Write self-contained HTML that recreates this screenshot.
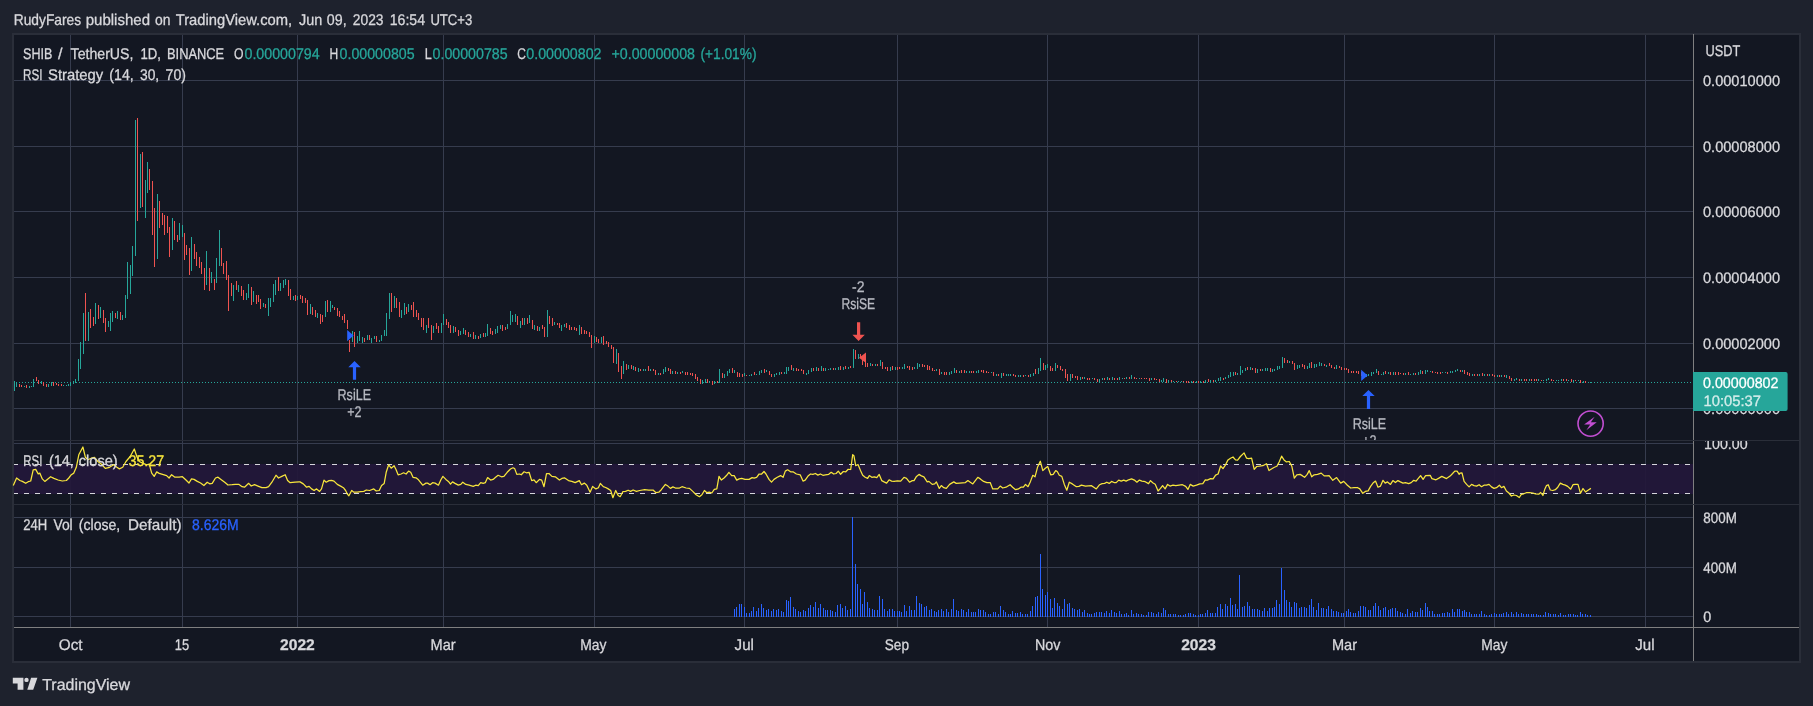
<!DOCTYPE html>
<html><head><meta charset="utf-8"><title>SHIB / TetherUS</title>
<style>
html,body{margin:0;padding:0;background:#1e222d}
body{width:1813px;height:706px;overflow:hidden;position:relative;font-family:"Liberation Sans",sans-serif}
svg{position:absolute;left:0;top:0;display:block;will-change:transform}
svg text{font-family:"Liberation Sans",sans-serif;text-rendering:geometricPrecision}
</style></head><body>
<svg width="1813" height="706" viewBox="0 0 1813 706">
<rect x="0" y="0" width="1813" height="706" fill="#1e222d"/>
<g shape-rendering="crispEdges">
<rect x="12" y="33" width="1789" height="630" fill="#2a2e39"/>
<rect x="14" y="35" width="1785" height="626" fill="#131722"/>
<rect x="70" y="35" width="1" height="592" fill="#363c4e"/>
<rect x="182" y="35" width="1" height="592" fill="#363c4e"/>
<rect x="297" y="35" width="1" height="592" fill="#363c4e"/>
<rect x="443" y="35" width="1" height="592" fill="#363c4e"/>
<rect x="594" y="35" width="1" height="592" fill="#363c4e"/>
<rect x="744" y="35" width="1" height="592" fill="#363c4e"/>
<rect x="897" y="35" width="1" height="592" fill="#363c4e"/>
<rect x="1047" y="35" width="1" height="592" fill="#363c4e"/>
<rect x="1198" y="35" width="1" height="592" fill="#363c4e"/>
<rect x="1344" y="35" width="1" height="592" fill="#363c4e"/>
<rect x="1494" y="35" width="1" height="592" fill="#363c4e"/>
<rect x="1645" y="35" width="1" height="592" fill="#363c4e"/>
<rect x="14" y="80" width="1679" height="1" fill="#363c4e"/>
<rect x="14" y="146" width="1679" height="1" fill="#363c4e"/>
<rect x="14" y="211" width="1679" height="1" fill="#363c4e"/>
<rect x="14" y="277" width="1679" height="1" fill="#363c4e"/>
<rect x="14" y="343" width="1679" height="1" fill="#363c4e"/>
<rect x="14" y="408" width="1679" height="1" fill="#363c4e"/>
<rect x="14" y="443" width="1679" height="1" fill="#363c4e"/>
<rect x="14" y="517" width="1679" height="1" fill="#363c4e"/>
<rect x="14" y="567" width="1679" height="1" fill="#363c4e"/>
<rect x="14" y="616" width="1679" height="1" fill="#363c4e"/>
<rect x="14" y="464" width="1679" height="30" fill="#22183a" fill-opacity="0.93"/>
<path d="M14 464.5h4M14 493.5h4M24 464.5h5M24 493.5h5M35 464.5h5M35 493.5h5M46 464.5h5M46 493.5h5M57 464.5h5M57 493.5h5M68 464.5h5M68 493.5h5M79 464.5h5M79 493.5h5M90 464.5h5M90 493.5h5M101 464.5h5M101 493.5h5M112 464.5h5M112 493.5h5M123 464.5h5M123 493.5h5M134 464.5h5M134 493.5h5M145 464.5h5M145 493.5h5M156 464.5h5M156 493.5h5M167 464.5h5M167 493.5h5M178 464.5h5M178 493.5h5M189 464.5h5M189 493.5h5M200 464.5h5M200 493.5h5M211 464.5h5M211 493.5h5M222 464.5h5M222 493.5h5M233 464.5h5M233 493.5h5M244 464.5h5M244 493.5h5M255 464.5h5M255 493.5h5M266 464.5h5M266 493.5h5M277 464.5h5M277 493.5h5M288 464.5h5M288 493.5h5M299 464.5h5M299 493.5h5M310 464.5h5M310 493.5h5M321 464.5h5M321 493.5h5M332 464.5h5M332 493.5h5M343 464.5h5M343 493.5h5M354 464.5h5M354 493.5h5M365 464.5h5M365 493.5h5M376 464.5h5M376 493.5h5M387 464.5h5M387 493.5h5M398 464.5h5M398 493.5h5M409 464.5h5M409 493.5h5M420 464.5h5M420 493.5h5M431 464.5h5M431 493.5h5M442 464.5h5M442 493.5h5M453 464.5h5M453 493.5h5M464 464.5h5M464 493.5h5M475 464.5h5M475 493.5h5M486 464.5h5M486 493.5h5M497 464.5h5M497 493.5h5M508 464.5h5M508 493.5h5M519 464.5h5M519 493.5h5M530 464.5h5M530 493.5h5M541 464.5h5M541 493.5h5M552 464.5h5M552 493.5h5M563 464.5h5M563 493.5h5M574 464.5h5M574 493.5h5M585 464.5h5M585 493.5h5M596 464.5h5M596 493.5h5M607 464.5h5M607 493.5h5M618 464.5h5M618 493.5h5M629 464.5h5M629 493.5h5M640 464.5h5M640 493.5h5M651 464.5h5M651 493.5h5M662 464.5h5M662 493.5h5M673 464.5h5M673 493.5h5M684 464.5h5M684 493.5h5M695 464.5h5M695 493.5h5M706 464.5h5M706 493.5h5M717 464.5h5M717 493.5h5M728 464.5h5M728 493.5h5M739 464.5h5M739 493.5h5M750 464.5h5M750 493.5h5M761 464.5h5M761 493.5h5M772 464.5h5M772 493.5h5M783 464.5h5M783 493.5h5M794 464.5h5M794 493.5h5M805 464.5h5M805 493.5h5M816 464.5h5M816 493.5h5M827 464.5h5M827 493.5h5M838 464.5h5M838 493.5h5M849 464.5h5M849 493.5h5M860 464.5h5M860 493.5h5M871 464.5h5M871 493.5h5M882 464.5h5M882 493.5h5M893 464.5h5M893 493.5h5M904 464.5h5M904 493.5h5M915 464.5h5M915 493.5h5M926 464.5h5M926 493.5h5M937 464.5h5M937 493.5h5M948 464.5h5M948 493.5h5M959 464.5h5M959 493.5h5M970 464.5h5M970 493.5h5M981 464.5h5M981 493.5h5M992 464.5h5M992 493.5h5M1003 464.5h5M1003 493.5h5M1014 464.5h5M1014 493.5h5M1025 464.5h5M1025 493.5h5M1036 464.5h5M1036 493.5h5M1047 464.5h5M1047 493.5h5M1058 464.5h5M1058 493.5h5M1069 464.5h5M1069 493.5h5M1080 464.5h5M1080 493.5h5M1091 464.5h5M1091 493.5h5M1102 464.5h5M1102 493.5h5M1113 464.5h5M1113 493.5h5M1124 464.5h5M1124 493.5h5M1135 464.5h5M1135 493.5h5M1146 464.5h5M1146 493.5h5M1157 464.5h5M1157 493.5h5M1168 464.5h5M1168 493.5h5M1179 464.5h5M1179 493.5h5M1190 464.5h5M1190 493.5h5M1201 464.5h5M1201 493.5h5M1212 464.5h5M1212 493.5h5M1223 464.5h5M1223 493.5h5M1234 464.5h5M1234 493.5h5M1245 464.5h5M1245 493.5h5M1256 464.5h5M1256 493.5h5M1267 464.5h5M1267 493.5h5M1278 464.5h5M1278 493.5h5M1289 464.5h5M1289 493.5h5M1300 464.5h5M1300 493.5h5M1311 464.5h5M1311 493.5h5M1322 464.5h5M1322 493.5h5M1333 464.5h5M1333 493.5h5M1344 464.5h5M1344 493.5h5M1355 464.5h5M1355 493.5h5M1366 464.5h5M1366 493.5h5M1377 464.5h5M1377 493.5h5M1388 464.5h5M1388 493.5h5M1399 464.5h5M1399 493.5h5M1410 464.5h5M1410 493.5h5M1421 464.5h5M1421 493.5h5M1432 464.5h5M1432 493.5h5M1443 464.5h5M1443 493.5h5M1454 464.5h5M1454 493.5h5M1465 464.5h5M1465 493.5h5M1476 464.5h5M1476 493.5h5M1487 464.5h5M1487 493.5h5M1498 464.5h5M1498 493.5h5M1509 464.5h5M1509 493.5h5M1520 464.5h5M1520 493.5h5M1531 464.5h5M1531 493.5h5M1542 464.5h5M1542 493.5h5M1553 464.5h5M1553 493.5h5M1564 464.5h5M1564 493.5h5M1575 464.5h5M1575 493.5h5M1586 464.5h5M1586 493.5h5M1597 464.5h5M1597 493.5h5M1608 464.5h5M1608 493.5h5M1619 464.5h5M1619 493.5h5M1630 464.5h5M1630 493.5h5M1641 464.5h5M1641 493.5h5M1652 464.5h5M1652 493.5h5M1663 464.5h5M1663 493.5h5M1674 464.5h5M1674 493.5h5M1685 464.5h5M1685 493.5h5" stroke="#d6d6dc" stroke-width="1" fill="none"/>
<path d="M16 382.5h1M19 382.5h1M22 382.5h1M25 382.5h1M28 382.5h1M31 382.5h1M34 382.5h1M37 382.5h1M40 382.5h1M43 382.5h1M46 382.5h1M49 382.5h1M52 382.5h1M55 382.5h1M58 382.5h1M61 382.5h1M64 382.5h1M67 382.5h1M70 382.5h1M73 382.5h1M76 382.5h1M79 382.5h1M82 382.5h1M85 382.5h1M88 382.5h1M91 382.5h1M94 382.5h1M97 382.5h1M100 382.5h1M103 382.5h1M106 382.5h1M109 382.5h1M112 382.5h1M115 382.5h1M118 382.5h1M121 382.5h1M124 382.5h1M127 382.5h1M130 382.5h1M133 382.5h1M136 382.5h1M139 382.5h1M142 382.5h1M145 382.5h1M148 382.5h1M151 382.5h1M154 382.5h1M157 382.5h1M160 382.5h1M163 382.5h1M166 382.5h1M169 382.5h1M172 382.5h1M175 382.5h1M178 382.5h1M181 382.5h1M184 382.5h1M187 382.5h1M190 382.5h1M193 382.5h1M196 382.5h1M199 382.5h1M202 382.5h1M205 382.5h1M208 382.5h1M211 382.5h1M214 382.5h1M217 382.5h1M220 382.5h1M223 382.5h1M226 382.5h1M229 382.5h1M232 382.5h1M235 382.5h1M238 382.5h1M241 382.5h1M244 382.5h1M247 382.5h1M250 382.5h1M253 382.5h1M256 382.5h1M259 382.5h1M262 382.5h1M265 382.5h1M268 382.5h1M271 382.5h1M274 382.5h1M277 382.5h1M280 382.5h1M283 382.5h1M286 382.5h1M289 382.5h1M292 382.5h1M295 382.5h1M298 382.5h1M301 382.5h1M304 382.5h1M307 382.5h1M310 382.5h1M313 382.5h1M316 382.5h1M319 382.5h1M322 382.5h1M325 382.5h1M328 382.5h1M331 382.5h1M334 382.5h1M337 382.5h1M340 382.5h1M343 382.5h1M346 382.5h1M349 382.5h1M352 382.5h1M355 382.5h1M358 382.5h1M361 382.5h1M364 382.5h1M367 382.5h1M370 382.5h1M373 382.5h1M376 382.5h1M379 382.5h1M382 382.5h1M385 382.5h1M388 382.5h1M391 382.5h1M394 382.5h1M397 382.5h1M400 382.5h1M403 382.5h1M406 382.5h1M409 382.5h1M412 382.5h1M415 382.5h1M418 382.5h1M421 382.5h1M424 382.5h1M427 382.5h1M430 382.5h1M433 382.5h1M436 382.5h1M439 382.5h1M442 382.5h1M445 382.5h1M448 382.5h1M451 382.5h1M454 382.5h1M457 382.5h1M460 382.5h1M463 382.5h1M466 382.5h1M469 382.5h1M472 382.5h1M475 382.5h1M478 382.5h1M481 382.5h1M484 382.5h1M487 382.5h1M490 382.5h1M493 382.5h1M496 382.5h1M499 382.5h1M502 382.5h1M505 382.5h1M508 382.5h1M511 382.5h1M514 382.5h1M517 382.5h1M520 382.5h1M523 382.5h1M526 382.5h1M529 382.5h1M532 382.5h1M535 382.5h1M538 382.5h1M541 382.5h1M544 382.5h1M547 382.5h1M550 382.5h1M553 382.5h1M556 382.5h1M559 382.5h1M562 382.5h1M565 382.5h1M568 382.5h1M571 382.5h1M574 382.5h1M577 382.5h1M580 382.5h1M583 382.5h1M586 382.5h1M589 382.5h1M592 382.5h1M595 382.5h1M598 382.5h1M601 382.5h1M604 382.5h1M607 382.5h1M610 382.5h1M613 382.5h1M616 382.5h1M619 382.5h1M622 382.5h1M625 382.5h1M628 382.5h1M631 382.5h1M634 382.5h1M637 382.5h1M640 382.5h1M643 382.5h1M646 382.5h1M649 382.5h1M652 382.5h1M655 382.5h1M658 382.5h1M661 382.5h1M664 382.5h1M667 382.5h1M670 382.5h1M673 382.5h1M676 382.5h1M679 382.5h1M682 382.5h1M685 382.5h1M688 382.5h1M691 382.5h1M694 382.5h1M697 382.5h1M700 382.5h1M703 382.5h1M706 382.5h1M709 382.5h1M712 382.5h1M715 382.5h1M718 382.5h1M721 382.5h1M724 382.5h1M727 382.5h1M730 382.5h1M733 382.5h1M736 382.5h1M739 382.5h1M742 382.5h1M745 382.5h1M748 382.5h1M751 382.5h1M754 382.5h1M757 382.5h1M760 382.5h1M763 382.5h1M766 382.5h1M769 382.5h1M772 382.5h1M775 382.5h1M778 382.5h1M781 382.5h1M784 382.5h1M787 382.5h1M790 382.5h1M793 382.5h1M796 382.5h1M799 382.5h1M802 382.5h1M805 382.5h1M808 382.5h1M811 382.5h1M814 382.5h1M817 382.5h1M820 382.5h1M823 382.5h1M826 382.5h1M829 382.5h1M832 382.5h1M835 382.5h1M838 382.5h1M841 382.5h1M844 382.5h1M847 382.5h1M850 382.5h1M853 382.5h1M856 382.5h1M859 382.5h1M862 382.5h1M865 382.5h1M868 382.5h1M871 382.5h1M874 382.5h1M877 382.5h1M880 382.5h1M883 382.5h1M886 382.5h1M889 382.5h1M892 382.5h1M895 382.5h1M898 382.5h1M901 382.5h1M904 382.5h1M907 382.5h1M910 382.5h1M913 382.5h1M916 382.5h1M919 382.5h1M922 382.5h1M925 382.5h1M928 382.5h1M931 382.5h1M934 382.5h1M937 382.5h1M940 382.5h1M943 382.5h1M946 382.5h1M949 382.5h1M952 382.5h1M955 382.5h1M958 382.5h1M961 382.5h1M964 382.5h1M967 382.5h1M970 382.5h1M973 382.5h1M976 382.5h1M979 382.5h1M982 382.5h1M985 382.5h1M988 382.5h1M991 382.5h1M994 382.5h1M997 382.5h1M1000 382.5h1M1003 382.5h1M1006 382.5h1M1009 382.5h1M1012 382.5h1M1015 382.5h1M1018 382.5h1M1021 382.5h1M1024 382.5h1M1027 382.5h1M1030 382.5h1M1033 382.5h1M1036 382.5h1M1039 382.5h1M1042 382.5h1M1045 382.5h1M1048 382.5h1M1051 382.5h1M1054 382.5h1M1057 382.5h1M1060 382.5h1M1063 382.5h1M1066 382.5h1M1069 382.5h1M1072 382.5h1M1075 382.5h1M1078 382.5h1M1081 382.5h1M1084 382.5h1M1087 382.5h1M1090 382.5h1M1093 382.5h1M1096 382.5h1M1099 382.5h1M1102 382.5h1M1105 382.5h1M1108 382.5h1M1111 382.5h1M1114 382.5h1M1117 382.5h1M1120 382.5h1M1123 382.5h1M1126 382.5h1M1129 382.5h1M1132 382.5h1M1135 382.5h1M1138 382.5h1M1141 382.5h1M1144 382.5h1M1147 382.5h1M1150 382.5h1M1153 382.5h1M1156 382.5h1M1159 382.5h1M1162 382.5h1M1165 382.5h1M1168 382.5h1M1171 382.5h1M1174 382.5h1M1177 382.5h1M1180 382.5h1M1183 382.5h1M1186 382.5h1M1189 382.5h1M1192 382.5h1M1195 382.5h1M1198 382.5h1M1201 382.5h1M1204 382.5h1M1207 382.5h1M1210 382.5h1M1213 382.5h1M1216 382.5h1M1219 382.5h1M1222 382.5h1M1225 382.5h1M1228 382.5h1M1231 382.5h1M1234 382.5h1M1237 382.5h1M1240 382.5h1M1243 382.5h1M1246 382.5h1M1249 382.5h1M1252 382.5h1M1255 382.5h1M1258 382.5h1M1261 382.5h1M1264 382.5h1M1267 382.5h1M1270 382.5h1M1273 382.5h1M1276 382.5h1M1279 382.5h1M1282 382.5h1M1285 382.5h1M1288 382.5h1M1291 382.5h1M1294 382.5h1M1297 382.5h1M1300 382.5h1M1303 382.5h1M1306 382.5h1M1309 382.5h1M1312 382.5h1M1315 382.5h1M1318 382.5h1M1321 382.5h1M1324 382.5h1M1327 382.5h1M1330 382.5h1M1333 382.5h1M1336 382.5h1M1339 382.5h1M1342 382.5h1M1345 382.5h1M1348 382.5h1M1351 382.5h1M1354 382.5h1M1357 382.5h1M1360 382.5h1M1363 382.5h1M1366 382.5h1M1369 382.5h1M1372 382.5h1M1375 382.5h1M1378 382.5h1M1381 382.5h1M1384 382.5h1M1387 382.5h1M1390 382.5h1M1393 382.5h1M1396 382.5h1M1399 382.5h1M1402 382.5h1M1405 382.5h1M1408 382.5h1M1411 382.5h1M1414 382.5h1M1417 382.5h1M1420 382.5h1M1423 382.5h1M1426 382.5h1M1429 382.5h1M1432 382.5h1M1435 382.5h1M1438 382.5h1M1441 382.5h1M1444 382.5h1M1447 382.5h1M1450 382.5h1M1453 382.5h1M1456 382.5h1M1459 382.5h1M1462 382.5h1M1465 382.5h1M1468 382.5h1M1471 382.5h1M1474 382.5h1M1477 382.5h1M1480 382.5h1M1483 382.5h1M1486 382.5h1M1489 382.5h1M1492 382.5h1M1495 382.5h1M1498 382.5h1M1501 382.5h1M1504 382.5h1M1507 382.5h1M1510 382.5h1M1513 382.5h1M1516 382.5h1M1519 382.5h1M1522 382.5h1M1525 382.5h1M1528 382.5h1M1531 382.5h1M1534 382.5h1M1537 382.5h1M1540 382.5h1M1543 382.5h1M1546 382.5h1M1549 382.5h1M1552 382.5h1M1555 382.5h1M1558 382.5h1M1561 382.5h1M1564 382.5h1M1567 382.5h1M1570 382.5h1M1573 382.5h1M1576 382.5h1M1579 382.5h1M1582 382.5h1M1585 382.5h1M1588 382.5h1M1591 382.5h1M1594 382.5h1M1597 382.5h1M1600 382.5h1M1603 382.5h1M1606 382.5h1M1609 382.5h1M1612 382.5h1M1615 382.5h1M1618 382.5h1M1621 382.5h1M1624 382.5h1M1627 382.5h1M1630 382.5h1M1633 382.5h1M1636 382.5h1M1639 382.5h1M1642 382.5h1M1645 382.5h1M1648 382.5h1M1651 382.5h1M1654 382.5h1M1657 382.5h1M1660 382.5h1M1663 382.5h1M1666 382.5h1M1669 382.5h1M1672 382.5h1M1675 382.5h1M1678 382.5h1M1681 382.5h1M1684 382.5h1M1687 382.5h1M1690 382.5h1" stroke="#26a69a" stroke-width="1" fill="none"/>
<rect x="1693" y="34" width="1" height="627" fill="#7f7f80"/>
<rect x="14" y="627" width="1785" height="1" fill="#7f7f80"/>
<rect x="14" y="440" width="1785" height="1" fill="#2a2e39"/>
<rect x="14" y="504" width="1785" height="1" fill="#2a2e39"/>
<path d="M734 609v8M736 607v10M739 604v13M741 604v13M744 607v10M746 613v4M749 613v4M751 611v6M753 607v10M756 611v6M758 608v9M761 604v13M763 608v9M766 610v7M768 609v8M771 611v6M773 609v8M776 610v7M778 609v8M781 611v6M783 612v5M786 600v17M788 601v16M790 597v20M793 607v10M795 609v8M798 611v6M800 612v5M803 610v7M805 611v6M808 608v9M810 605v12M813 607v10M815 602v15M818 608v9M820 604v13M823 608v9M825 610v7M827 610v7M830 610v7M832 611v6M835 612v5M837 605v12M840 604v13M842 608v9M845 606v11M847 610v7M850 609v8M852 517v100M855 564v53M857 584v33M860 589v28M862 604v13M864 592v25M867 602v15M869 608v9M872 609v8M874 610v7M877 610v7M879 596v21M882 599v18M884 609v8M887 611v6M889 609v8M892 609v8M894 611v6M897 611v6M899 611v6M901 612v5M904 605v12M906 611v6M909 606v11M911 610v7M914 610v7M916 596v21M919 603v14M921 604v13M924 607v10M926 606v11M929 610v7M931 609v8M934 611v6M936 612v5M938 610v7M941 609v8M943 611v6M946 609v8M948 612v5M951 609v8M953 599v18M956 610v7M958 611v6M961 609v8M963 610v7M966 612v5M968 609v8M971 612v5M973 612v5M975 612v5M978 609v8M980 610v7M983 610v7M985 612v5M988 614v3M990 614v3M993 612v5M995 612v5M998 614v3M1000 606v11M1003 610v7M1005 612v5M1008 614v3M1010 614v3M1012 611v6M1015 613v4M1017 613v4M1020 612v5M1022 614v3M1025 614v3M1027 614v3M1030 611v6M1032 606v11M1035 597v20M1037 596v21M1040 554v63M1042 589v28M1045 595v22M1047 592v25M1050 599v18M1052 608v9M1054 598v19M1057 603v14M1059 606v11M1062 609v8M1064 599v18M1067 604v13M1069 603v14M1072 608v9M1074 609v8M1077 610v7M1079 609v8M1082 612v5M1084 610v7M1087 613v4M1089 614v3M1091 614v3M1094 613v4M1096 612v5M1099 612v5M1101 612v5M1104 613v4M1106 611v6M1109 613v4M1111 610v7M1114 612v5M1116 613v4M1119 611v6M1121 614v3M1124 614v3M1126 613v4M1128 615v2M1131 610v7M1133 614v3M1136 613v4M1138 614v3M1141 614v3M1143 615v2M1146 615v2M1148 612v5M1151 612v5M1153 613v4M1156 614v3M1158 612v5M1161 613v4M1163 608v9M1165 610v7M1168 614v3M1170 614v3M1173 614v3M1175 614v3M1178 615v2M1180 615v2M1183 615v2M1185 614v3M1188 613v4M1190 613v4M1193 614v3M1195 615v2M1198 615v2M1200 614v3M1202 614v3M1205 613v4M1207 610v7M1210 613v4M1212 613v4M1215 613v4M1217 607v10M1220 604v13M1222 609v8M1225 604v13M1227 606v11M1230 598v19M1232 605v12M1235 604v13M1237 609v8M1239 575v42M1242 607v10M1244 606v11M1247 602v15M1249 606v11M1252 609v8M1254 609v8M1257 609v8M1259 610v7M1262 611v6M1264 608v9M1267 611v6M1269 608v9M1272 608v9M1274 607v10M1276 600v17M1279 604v13M1281 568v49M1284 590v27M1286 600v17M1289 602v15M1291 607v10M1294 602v15M1296 603v14M1299 608v9M1301 607v10M1304 607v10M1306 608v9M1309 605v12M1311 599v18M1313 607v10M1316 610v7M1318 603v14M1321 608v9M1323 608v9M1326 609v8M1328 606v11M1331 609v8M1333 611v6M1336 611v6M1338 612v5M1341 613v4M1343 613v4M1346 611v6M1348 609v8M1350 612v5M1353 613v4M1355 613v4M1358 611v6M1360 606v11M1363 606v11M1365 607v10M1368 610v7M1370 610v7M1373 606v11M1375 603v14M1378 606v11M1380 610v7M1383 608v9M1385 607v10M1388 610v7M1390 609v8M1392 608v9M1395 608v9M1397 611v6M1400 612v5M1402 613v4M1405 614v3M1407 609v8M1410 613v4M1412 611v6M1415 612v5M1417 612v5M1420 608v9M1422 610v7M1425 603v14M1427 607v10M1429 611v6M1432 611v6M1434 614v3M1437 614v3M1439 614v3M1442 613v4M1444 613v4M1447 612v5M1449 613v4M1452 609v8M1454 612v5M1457 609v8M1459 609v8M1462 611v6M1464 610v7M1466 612v5M1469 612v5M1471 614v3M1474 614v3M1476 614v3M1479 614v3M1481 611v6M1484 614v3M1486 615v2M1489 615v2M1491 614v3M1494 613v4M1496 614v3M1499 614v3M1501 614v3M1503 613v4M1506 612v5M1508 614v3M1511 612v5M1513 614v3M1516 612v5M1518 614v3M1521 613v4M1523 614v3M1526 614v3M1528 614v3M1531 614v3M1533 614v3M1536 614v3M1538 615v2M1540 615v2M1543 615v2M1545 612v5M1548 613v4M1550 614v3M1553 614v3M1555 614v3M1558 615v2M1560 613v4M1563 615v2M1565 615v2M1568 614v3M1570 614v3M1573 614v3M1575 615v2M1577 615v2M1580 612v5M1582 614v3M1585 614v3M1587 615v2M1590 615v2" stroke="#2962ff" stroke-width="1" fill="none" transform="translate(0.5,0)"/>
<path d="M14 381v10M16 382v5M24 386v1M29 386v2M31 386v1M33 379v8M41 381v3M48 384v3M51 382v4M63 385v1M66 385v1M68 384v2M70 382v4M73 381v3M75 379v4M78 359v22M80 342v27M83 313v41M88 312v29M95 303v21M100 307v11M108 321v6M110 313v18M112 311v11M117 311v8M122 315v5M125 295v23M127 262v37M130 265v29M132 246v30M135 120v136M140 154v54M145 180v38M147 162v31M157 194v65M172 218v32M179 223v17M182 225v12M191 237v34M206 251v34M211 272v11M216 258v25M219 230v36M233 285v16M238 285v7M246 293v7M248 284v14M253 291v11M263 303v4M268 298v18M270 298v9M273 284v18M275 280v15M280 283v8M283 280v8M285 279v6M293 296v4M297 296v4M310 304v10M317 313v5M325 301v16M330 301v11M332 305v3M352 331v11M357 336v7M359 331v10M362 337v6M367 335v5M371 338v5M374 336v3M379 340v2M381 335v6M384 330v6M386 313v23M389 293v26M394 296v12M401 310v8M404 303v12M408 304v8M426 325v8M433 326v7M441 323v10M443 314v11M453 326v7M460 331v4M463 328v6M470 334v3M475 335v4M480 334v4M485 333v4M487 324v12M495 329v5M497 326v7M500 325v4M507 324v5M510 311v14M512 315v7M515 314v8M520 321v7M524 318v7M529 315v8M534 325v5M539 327v4M547 310v27M554 322v3M561 325v6M564 324v3M579 325v10M594 336v7M601 337v6M616 349v15M623 361v13M628 365v4M633 366v4M638 368v4M643 369v2M645 369v2M650 369v2M658 373v2M663 369v5M665 367v5M672 371v3M677 372v2M682 371v2M702 380v4M705 379v4M709 381v2M714 381v3M719 369v14M724 374v4M727 371v5M729 369v4M734 370v3M744 373v3M749 375v1M751 374v2M756 374v1M759 371v4M761 370v3M766 370v2M774 374v3M776 373v2M779 372v3M784 372v2M786 367v7M788 367v4M793 368v3M806 373v2M808 370v4M811 368v4M816 367v4M821 366v5M825 368v3M828 369v1M830 368v2M835 368v2M838 367v3M843 367v3M848 367v2M853 349v19M858 354v5M870 363v3M875 364v2M880 360v6M890 367v4M895 367v3M902 367v2M904 364v5M914 367v2M917 363v6M919 364v3M936 369v2M941 372v2M949 372v3M951 371v3M954 368v5M959 371v2M966 371v2M969 371v2M976 371v2M978 370v3M991 372v1M996 374v2M1001 373v5M1006 374v2M1008 374v2M1010 374v2M1018 375v2M1020 375v2M1025 375v1M1030 374v3M1033 373v3M1038 368v6M1040 358v13M1045 365v5M1047 364v4M1055 363v8M1070 374v7M1080 377v3M1084 377v2M1092 378v1M1099 379v4M1102 378v2M1107 377v3M1112 377v3M1119 377v3M1122 378v1M1126 377v2M1131 375v4M1139 378v1M1151 378v2M1161 380v2M1163 378v4M1168 380v2M1173 381v1M1178 381v1M1181 381v1M1191 381v2M1196 381v2M1200 381v2M1205 380v3M1210 380v2M1215 380v2M1218 378v3M1220 377v4M1225 377v2M1228 375v3M1230 372v5M1233 372v4M1237 373v2M1240 366v9M1242 370v3M1245 368v3M1250 367v3M1257 369v4M1262 369v2M1265 368v3M1267 368v3M1272 369v3M1274 369v2M1277 366v4M1279 366v3M1282 357v11M1289 361v2M1297 365v4M1299 365v3M1307 366v3M1309 363v5M1314 364v4M1316 364v3M1319 362v4M1321 363v3M1326 365v2M1336 365v4M1363 373v4M1366 374v3M1368 374v2M1371 372v4M1373 372v2M1376 369v4M1381 374v1M1383 372v3M1388 372v2M1393 372v3M1405 373v2M1410 374v1M1413 373v2M1418 372v3M1420 370v4M1425 370v4M1427 370v2M1430 371v1M1442 372v1M1445 372v1M1450 371v2M1452 371v2M1455 370v2M1457 369v2M1462 370v2M1472 374v2M1479 374v2M1484 374v2M1489 374v2M1497 375v2M1501 375v2M1506 375v3M1514 379v2M1516 378v2M1521 379v2M1529 379v2M1538 379v2M1543 380v1M1546 379v2M1548 378v2M1556 380v1M1558 380v1M1561 379v2M1568 380v1M1573 380v2M1578 380v1M1583 381v2M1588 382v1M1590 382v1" stroke="#26a69a" stroke-width="1" fill="none" transform="translate(0.5,0)"/>
<path d="M19 384v3M21 385v2M26 385v3M36 377v4M38 380v4M43 382v4M46 384v3M53 382v4M56 383v2M58 384v2M61 384v2M85 293v48M90 309v19M93 317v9M98 305v14M103 310v13M105 318v14M115 313v5M120 312v8M137 118v103M142 152v55M149 169v21M152 181v54M154 208v59M159 201v27M162 213v12M164 215v20M167 216v17M169 227v30M174 221v19M177 235v7M184 233v27M186 245v10M189 248v27M194 244v15M196 252v14M199 257v11M201 262v12M204 268v22M209 268v23M214 279v11M221 248v18M223 263v11M226 261v19M228 275v36M231 283v13M236 281v9M241 286v10M243 290v10M251 287v18M256 295v9M258 295v7M260 299v10M265 304v4M278 277v14M288 280v16M290 289v11M295 295v6M300 295v4M302 296v7M305 298v5M307 300v15M312 307v8M315 310v7M320 314v10M322 315v7M327 300v12M334 307v3M337 308v8M339 311v6M342 316v4M344 314v9M347 320v9M349 340v12M354 332v15M364 338v4M369 335v5M376 336v6M391 293v19M396 298v10M399 302v15M406 307v7M411 305v5M413 302v15M416 310v7M418 313v7M421 318v9M423 318v12M428 318v10M431 325v15M436 323v6M438 326v7M446 319v6M448 322v6M450 325v8M455 327v5M458 330v6M465 330v5M468 332v5M473 332v7M478 336v3M483 333v4M490 328v6M492 331v4M502 325v6M505 327v3M517 316v9M522 318v7M527 318v6M532 320v9M537 326v5M542 325v4M544 327v10M549 316v8M552 318v8M557 323v2M559 323v5M566 323v5M569 325v5M571 327v3M574 327v3M576 328v3M581 327v7M584 330v4M586 331v3M589 332v5M591 335v13M596 337v5M598 339v4M603 336v9M606 341v3M608 342v5M611 345v4M613 347v16M618 353v19M621 366v13M626 364v6M631 365v4M635 367v4M640 369v2M648 366v5M653 369v2M655 370v5M660 373v2M668 368v3M670 369v5M675 371v3M680 372v2M685 372v3M687 372v3M690 373v2M692 373v3M695 374v5M697 377v4M700 379v5M707 379v4M712 381v4M717 381v2M722 373v5M732 368v5M737 372v5M739 373v4M742 374v3M746 375v1M754 372v3M764 369v4M769 371v4M771 374v3M781 372v2M791 365v5M796 368v3M798 369v2M801 369v2M803 370v4M813 368v3M818 368v3M823 368v3M833 368v2M840 366v4M845 366v3M850 366v2M855 350v9M860 354v4M862 357v8M865 362v5M867 363v4M872 364v2M877 364v2M882 362v7M885 367v2M887 367v4M892 366v4M897 367v3M899 367v2M907 366v2M909 366v4M912 367v3M922 364v3M924 365v2M927 365v5M929 366v4M932 368v3M934 370v1M939 369v6M944 372v3M946 372v3M956 370v3M961 370v3M964 370v3M971 371v2M973 371v2M981 370v2M983 370v3M986 371v2M988 372v1M993 372v4M998 374v2M1003 373v3M1013 374v2M1015 375v2M1023 375v2M1028 375v2M1035 369v5M1043 363v7M1050 366v5M1052 368v3M1057 365v3M1060 366v4M1062 369v2M1065 369v9M1067 374v7M1072 374v4M1075 376v2M1077 376v4M1082 377v2M1087 378v2M1089 378v2M1094 378v2M1097 379v3M1104 378v2M1109 378v2M1114 378v2M1117 378v2M1124 378v1M1129 377v2M1134 377v2M1136 378v1M1141 378v1M1144 378v1M1146 378v1M1149 378v3M1154 378v2M1156 379v1M1159 379v3M1166 379v4M1171 380v2M1176 381v1M1183 381v1M1186 381v2M1188 381v2M1193 381v2M1198 381v2M1203 381v2M1208 379v3M1213 380v2M1223 378v2M1235 372v3M1247 367v3M1252 368v2M1255 368v5M1260 369v2M1270 368v4M1284 358v5M1287 360v3M1292 361v3M1294 363v7M1302 364v3M1304 365v4M1311 362v6M1324 364v2M1329 363v3M1331 365v3M1334 367v2M1339 366v2M1341 367v3M1344 368v2M1346 368v2M1348 369v4M1351 371v2M1353 371v2M1356 371v2M1358 371v3M1361 372v4M1378 371v4M1385 371v3M1390 372v3M1395 372v3M1398 372v3M1400 373v1M1403 373v2M1408 372v3M1415 373v2M1422 371v3M1432 371v2M1435 372v1M1437 372v2M1440 372v2M1447 372v2M1460 370v2M1464 370v4M1467 372v3M1469 373v3M1474 374v2M1477 374v2M1482 373v3M1487 374v2M1492 374v2M1494 375v2M1499 375v2M1504 375v2M1509 376v3M1511 378v3M1519 379v2M1524 379v2M1526 379v2M1531 379v2M1534 379v2M1536 379v2M1541 380v1M1551 379v2M1553 380v1M1563 379v2M1566 379v2M1571 379v3M1575 380v1M1580 380v3M1585 381v2" stroke="#ef5350" stroke-width="1" fill="none" transform="translate(0.5,0)"/>
</g>
<polyline points="13.3,485.5 16.6,478.0 19.9,480.5 22.4,481.4 25.7,483.3 28.2,481.7 30.7,481.0 33.2,469.8 35.7,469.4 38.2,473.9 39.8,473.1 42.3,478.9 44.8,481.4 47.3,479.4 50.6,476.7 53.9,478.4 58.1,480.0 62.2,481.0 66.4,480.5 68.8,478.0 71.3,474.7 73.8,473.1 76.3,467.3 78.8,454.8 82.9,447.0 85.4,457.3 87.9,459.8 91.2,458.2 94.5,457.3 97.9,461.5 101.2,464.0 105.3,468.4 109.5,467.3 113.6,464.8 116.9,467.3 119.4,468.9 122.7,467.3 126.0,461.5 130.2,456.5 134.3,449.0 136.8,456.5 139.3,461.5 142.6,463.1 146.7,464.8 149.2,464.0 151.7,473.1 154.2,476.4 156.7,471.9 159.2,473.4 162.5,474.4 166.6,475.6 169.1,478.0 171.6,474.7 174.9,477.2 179.1,477.2 182.4,476.7 185.7,479.7 189.0,483.0 191.5,478.9 194.0,479.4 197.3,481.4 200.6,483.0 203.9,485.5 207.2,482.2 209.7,483.8 212.2,483.3 215.5,478.0 218.0,477.2 221.3,479.7 224.7,482.2 228.0,485.0 232.1,484.7 235.4,484.3 238.7,484.3 242.1,486.7 244.5,487.2 248.7,483.3 251.2,486.0 254.5,484.7 258.6,486.3 261.9,487.7 266.1,487.7 268.6,486.7 271.9,482.2 276.0,475.2 278.5,478.0 281.8,476.4 285.2,474.7 287.6,480.5 290.1,482.7 295.1,482.2 299.2,481.9 300.0,481.9 303.3,483.9 306.6,487.2 309.1,486.4 311.6,488.9 314.1,490.5 316.6,488.9 319.6,491.4 321.5,488.9 324.0,480.1 326.2,482.2 329.0,480.6 331.5,480.3 334.0,481.1 337.3,484.4 340.6,486.1 343.4,487.7 345.6,490.5 347.2,493.8 348.9,495.8 351.7,490.5 353.9,492.2 357.2,492.2 360.5,491.7 363.8,491.4 366.3,490.0 369.6,490.5 373.8,488.9 376.2,490.9 379.2,490.5 381.6,485.6 384.2,483.4 386.2,472.3 388.7,464.8 391.2,468.2 394.1,465.7 396.1,469.8 398.1,474.8 401.1,474.0 403.6,472.8 406.1,474.0 408.6,471.1 410.7,472.3 413.0,477.3 416.0,477.8 418.5,479.8 422.7,485.2 426.0,483.1 427.6,483.1 430.1,484.7 432.6,482.7 435.1,483.1 438.4,485.2 440.9,479.8 442.9,476.4 445.9,479.4 448.4,481.4 450.5,484.2 452.5,481.9 455.0,483.4 458.3,485.1 460.8,484.4 462.8,482.2 465.8,484.4 469.1,485.2 473.2,486.4 475.7,485.2 478.2,485.6 480.7,482.6 483.2,483.4 485.3,482.7 487.6,477.6 490.6,480.1 493.1,479.4 495.6,477.3 498.1,475.3 501.4,476.8 503.9,476.4 507.2,472.3 510.5,469.0 513.0,467.8 514.7,468.6 516.8,474.4 519.6,474.0 521.3,474.8 524.1,471.8 526.3,472.8 529.1,472.3 531.7,480.6 534.0,479.8 536.2,482.7 539.5,479.4 541.7,480.1 544.0,486.7 546.5,473.6 549.0,473.5 551.9,476.4 555.3,476.8 559.4,480.1 561.9,478.4 564.4,477.8 568.5,480.6 571.8,481.4 575.2,482.6 579.3,480.6 581.5,484.7 584.3,483.1 586.8,485.2 590.1,492.2 592.6,486.4 595.9,488.9 598.4,487.7 600.3,483.4 603.3,486.7 605.7,487.5 608.2,488.9 610.7,490.5 612.9,497.7 615.7,490.5 618.2,495.5 620.2,496.7 622.8,491.7 625.6,491.4 628.1,490.2 630.6,491.4 633.1,490.0 636.4,491.4 639.7,490.5 644.7,489.7 648.8,490.2 653.0,490.0 656.0,492.7 658.8,492.2 661.3,489.7 665.4,484.4 667.9,486.1 670.4,488.4 672.9,486.9 675.4,488.0 679.5,488.0 682.0,486.7 686.1,488.0 689.5,488.4 692.8,491.4 696.1,494.7 699.4,496.7 701.9,494.7 704.4,490.5 706.9,492.7 709.3,492.2 711.8,493.0 714.3,489.4 716.8,488.9 719.0,476.4 721.4,480.1 724.3,477.8 726.7,475.3 728.9,472.3 731.7,475.6 734.2,475.6 736.7,480.1 739.2,478.9 741.7,478.4 745.0,479.4 749.1,479.4 752.1,477.6 754.1,478.1 756.6,477.3 759.1,474.0 761.6,474.0 764.0,471.5 766.0,474.0 769.0,479.4 771.5,482.2 774.0,479.4 777.3,477.3 780.6,475.6 783.1,477.3 785.3,471.1 787.6,469.8 790.6,471.8 793.0,471.8 796.4,474.0 800.2,474.8 803.0,481.1 805.2,480.1 808.0,476.1 810.5,474.0 812.9,474.3 815.4,473.5 817.9,475.1 820.4,474.0 822.9,475.3 825.4,474.8 828.7,474.3 831.2,472.3 833.7,474.0 836.1,473.5 838.3,471.1 840.6,474.3 843.3,471.5 845.8,471.8 848.2,469.3 850.7,469.5 852.7,454.6 853.9,455.7 855.7,465.7 858.0,464.5 860.5,470.6 862.7,475.3 865.2,477.3 867.6,478.4 869.3,475.6 871.8,477.3 874.3,476.8 876.8,477.6 879.2,474.4 881.7,480.6 884.1,481.9 886.6,483.1 889.1,479.8 891.6,481.1 894.1,481.4 897.4,480.9 900.7,481.1 904.0,477.3 906.5,478.4 909.5,482.2 912.3,480.6 914.0,480.6 916.5,476.4 919.0,474.4 921.4,475.9 923.9,476.8 927.2,481.9 928.9,481.4 932.2,484.4 934.7,483.9 936.4,481.9 939.3,488.4 941.3,485.6 943.8,487.7 946.3,488.4 949.6,484.4 953.8,481.9 956.2,483.4 959.6,483.1 965.4,482.6 967.9,480.6 970.3,482.2 972.8,483.9 975.3,480.6 977.8,477.3 980.3,478.9 983.6,481.4 986.9,482.7 990.2,482.6 992.7,488.9 995.2,488.9 997.7,488.9 1000.2,486.1 1002.7,488.0 1006.0,487.2 1010.1,484.7 1012.6,487.2 1015.6,489.7 1018.4,488.9 1020.9,487.2 1023.4,487.2 1025.5,484.4 1028.0,486.7 1030.5,481.4 1032.8,475.3 1035.0,476.8 1037.5,467.3 1040.3,461.2 1042.8,470.6 1045.3,468.2 1047.7,466.5 1050.7,474.8 1053.2,474.4 1055.7,470.6 1057.4,471.8 1059.3,475.3 1061.8,476.4 1064.3,484.4 1066.8,490.2 1069.3,482.2 1072.3,483.9 1076.4,486.7 1078.9,486.4 1081.4,485.1 1085.5,486.1 1091.3,485.6 1093.8,487.2 1096.3,488.9 1099.6,484.7 1102.1,483.6 1104.6,483.4 1106.8,482.2 1109.2,483.4 1111.6,481.4 1114.5,482.7 1116.2,482.6 1118.7,480.1 1121.2,481.1 1123.7,480.1 1126.1,481.1 1128.6,479.8 1131.6,478.9 1134.4,480.1 1136.9,482.2 1139.4,480.1 1141.9,481.1 1145.2,481.7 1148.5,483.6 1150.5,480.6 1152.7,482.7 1155.2,484.2 1158.1,491.0 1160.5,488.4 1162.6,485.6 1165.1,488.9 1167.6,484.4 1170.0,486.1 1173.0,485.1 1175.8,485.6 1179.1,485.1 1182.4,484.7 1185.7,486.4 1187.9,489.4 1190.2,484.4 1193.2,486.1 1196.5,485.2 1199.8,483.9 1202.8,483.6 1205.3,479.8 1207.3,480.1 1210.6,478.6 1213.1,478.9 1215.6,475.1 1218.1,474.0 1220.6,466.0 1223.0,468.6 1225.5,464.8 1228.0,459.9 1230.5,458.2 1233.0,457.0 1235.5,459.9 1237.6,460.2 1240.4,456.5 1244.1,452.9 1246.6,458.2 1248.7,458.7 1251.6,458.2 1254.2,469.3 1256.7,466.5 1259.5,466.2 1262.8,465.7 1266.5,463.7 1269.0,470.6 1271.4,469.0 1274.4,467.3 1276.9,466.2 1279.4,461.5 1281.6,456.2 1284.0,459.9 1286.5,461.9 1289.3,461.5 1291.8,466.2 1294.3,478.1 1296.8,474.8 1300.1,474.4 1302.6,475.9 1304.6,477.3 1307.2,474.4 1309.2,470.6 1311.7,476.8 1314.2,474.8 1317.5,474.3 1321.2,473.1 1324.2,475.9 1326.6,475.9 1329.1,475.6 1332.8,480.3 1336.6,477.6 1340.7,483.1 1343.7,481.4 1347.4,485.2 1350.7,488.0 1354.0,487.7 1357.3,487.5 1359.8,488.9 1362.8,493.3 1365.3,491.4 1368.1,490.9 1370.6,486.4 1373.0,483.1 1375.5,481.1 1378.0,487.2 1380.5,486.1 1383.0,480.3 1385.2,483.1 1387.5,481.9 1390.5,484.4 1392.9,480.6 1395.4,482.6 1397.9,480.6 1400.4,481.9 1402.9,483.1 1405.4,482.6 1408.7,483.6 1411.2,482.6 1413.7,480.3 1416.1,481.1 1418.3,478.4 1420.6,475.6 1423.1,479.4 1425.6,475.6 1430.2,475.3 1431.9,478.6 1436.0,479.8 1438.5,478.4 1441.8,476.4 1446.5,478.6 1450.1,476.1 1452.6,473.5 1454.8,471.1 1457.1,471.1 1459.2,474.3 1460.0,473.1 1462.0,472.8 1464.1,481.4 1466.6,484.4 1469.1,486.9 1471.6,484.4 1474.1,485.6 1476.6,486.1 1479.1,484.7 1481.5,486.7 1484.0,485.2 1486.5,485.2 1489.0,484.4 1491.5,486.9 1494.0,488.4 1496.5,487.7 1499.4,485.2 1501.4,487.7 1503.9,486.4 1506.4,491.0 1508.9,493.0 1511.4,496.0 1513.9,495.0 1516.4,495.5 1519.3,497.5 1521.3,494.3 1523.8,493.8 1526.3,492.7 1529.6,492.7 1532.9,493.0 1535.4,493.8 1538.7,494.2 1540.7,492.5 1542.9,495.5 1544.9,488.9 1546.5,485.6 1548.2,484.7 1550.3,490.0 1552.8,490.5 1555.3,489.7 1557.8,487.2 1560.3,483.1 1562.8,484.4 1565.3,485.1 1567.7,486.4 1570.7,489.2 1573.0,484.7 1575.2,484.4 1578.0,484.4 1580.5,493.3 1583.0,488.5 1585.5,491.9 1588.0,490.2 1590.9,488.4" fill="none" stroke="#f8e63c" stroke-width="1.25" stroke-linejoin="round"/>
<g>
<path d="M347.2 330v11.2l6.4-5.6z" fill="#2962ff"/>
<path d="M354.5 361l6.2 6.2h-4.6v12.6h-3.2v-12.6h-4.6z" fill="#2962ff"/>
<path d="M1361.2 369.8v11.2l6.4-5.6z" fill="#2962ff"/>
<path d="M1368.5 389.9l6.2 6.2h-4.6v12.8h-3.2v-12.8h-4.6z" fill="#2962ff"/>
<path d="M857 322.3h3.2v12.4h4.6l-6.2 6.3l-6.2-6.3h4.6z" fill="#ef5350"/>
<path d="M866 352.5v10.6l-7-5.3z" fill="#ef5350"/>
</g>
<circle cx="1590.6" cy="423.6" r="12.6" fill="#131722" stroke="#c14fd1" stroke-width="1.6"/>
<path d="M1594.66 416.7L1584.1 424.5h6.1l-3.85 5.8l10.4-8h-5.9z" fill="#c14fd1"/>
<text x="13.7" y="25.0" font-size="15.5" fill="#d8d8dc" stroke="#d8d8dc" stroke-width="0.3" textLength="67.5" lengthAdjust="spacingAndGlyphs">RudyFares</text>
<text x="85.7" y="25.0" font-size="15.5" fill="#d8d8dc" stroke="#d8d8dc" stroke-width="0.3" textLength="64.3" lengthAdjust="spacingAndGlyphs">published</text>
<text x="155.0" y="25.0" font-size="15.5" fill="#d8d8dc" stroke="#d8d8dc" stroke-width="0.3" textLength="15.5" lengthAdjust="spacingAndGlyphs">on</text>
<text x="175.7" y="25.0" font-size="15.5" fill="#d8d8dc" stroke="#d8d8dc" stroke-width="0.3" textLength="116.5" lengthAdjust="spacingAndGlyphs">TradingView.com,</text>
<text x="299.0" y="25.0" font-size="15.5" fill="#d8d8dc" stroke="#d8d8dc" stroke-width="0.3" textLength="23.3" lengthAdjust="spacingAndGlyphs">Jun</text>
<text x="326.8" y="25.0" font-size="15.5" fill="#d8d8dc" stroke="#d8d8dc" stroke-width="0.3" textLength="19.8" lengthAdjust="spacingAndGlyphs">09,</text>
<text x="352.8" y="25.0" font-size="15.5" fill="#d8d8dc" stroke="#d8d8dc" stroke-width="0.3" textLength="30.7" lengthAdjust="spacingAndGlyphs">2023</text>
<text x="389.7" y="25.0" font-size="15.5" fill="#d8d8dc" stroke="#d8d8dc" stroke-width="0.3" textLength="35.3" lengthAdjust="spacingAndGlyphs">16:54</text>
<text x="430.4" y="25.0" font-size="15.5" fill="#d8d8dc" stroke="#d8d8dc" stroke-width="0.3" textLength="41.8" lengthAdjust="spacingAndGlyphs">UTC+3</text>
<text x="23.1" y="59.0" font-size="15.5" fill="#d8d8dc" stroke="#d8d8dc" stroke-width="0.3" textLength="29.3" lengthAdjust="spacingAndGlyphs">SHIB</text>
<text x="57.9" y="59.0" font-size="15.5" fill="#d8d8dc" stroke="#d8d8dc" stroke-width="0.3" textLength="4.5" lengthAdjust="spacingAndGlyphs">/</text>
<text x="70.6" y="59.0" font-size="15.5" fill="#d8d8dc" stroke="#d8d8dc" stroke-width="0.3" textLength="62.8" lengthAdjust="spacingAndGlyphs">TetherUS,</text>
<text x="140.5" y="59.0" font-size="15.5" fill="#d8d8dc" stroke="#d8d8dc" stroke-width="0.3" textLength="20.5" lengthAdjust="spacingAndGlyphs">1D,</text>
<text x="167.0" y="59.0" font-size="15.5" fill="#d8d8dc" stroke="#d8d8dc" stroke-width="0.3" textLength="57.2" lengthAdjust="spacingAndGlyphs">BINANCE</text>
<text x="233.9" y="59.0" font-size="15.5" fill="#d8d8dc" stroke="#d8d8dc" stroke-width="0.3" textLength="9.5" lengthAdjust="spacingAndGlyphs">O</text>
<text x="244.5" y="59.0" font-size="15.5" fill="#26a69a" stroke="#26a69a" stroke-width="0.3" textLength="75.2" lengthAdjust="spacingAndGlyphs">0.00000794</text>
<text x="329.6" y="59.0" font-size="15.5" fill="#d8d8dc" stroke="#d8d8dc" stroke-width="0.3" textLength="8.7" lengthAdjust="spacingAndGlyphs">H</text>
<text x="339.6" y="59.0" font-size="15.5" fill="#26a69a" stroke="#26a69a" stroke-width="0.3" textLength="75.0" lengthAdjust="spacingAndGlyphs">0.00000805</text>
<text x="424.7" y="59.0" font-size="15.5" fill="#d8d8dc" stroke="#d8d8dc" stroke-width="0.3" textLength="7.0" lengthAdjust="spacingAndGlyphs">L</text>
<text x="432.6" y="59.0" font-size="15.5" fill="#26a69a" stroke="#26a69a" stroke-width="0.3" textLength="75.0" lengthAdjust="spacingAndGlyphs">0.00000785</text>
<text x="517.2" y="59.0" font-size="15.5" fill="#d8d8dc" stroke="#d8d8dc" stroke-width="0.3" textLength="8.6" lengthAdjust="spacingAndGlyphs">C</text>
<text x="526.3" y="59.0" font-size="15.5" fill="#26a69a" stroke="#26a69a" stroke-width="0.3" textLength="75.2" lengthAdjust="spacingAndGlyphs">0.00000802</text>
<text x="611.5" y="59.0" font-size="15.5" fill="#26a69a" stroke="#26a69a" stroke-width="0.3" textLength="83.5" lengthAdjust="spacingAndGlyphs">+0.00000008</text>
<text x="700.5" y="59.0" font-size="15.5" fill="#26a69a" stroke="#26a69a" stroke-width="0.3" textLength="56.0" lengthAdjust="spacingAndGlyphs">(+1.01%)</text>
<text x="23.1" y="80.0" font-size="15.5" fill="#d8d8dc" stroke="#d8d8dc" stroke-width="0.3" textLength="19.4" lengthAdjust="spacingAndGlyphs">RSI</text>
<text x="48.0" y="80.0" font-size="15.5" fill="#d8d8dc" stroke="#d8d8dc" stroke-width="0.3" textLength="55.2" lengthAdjust="spacingAndGlyphs">Strategy</text>
<text x="109.3" y="80.0" font-size="15.5" fill="#d8d8dc" stroke="#d8d8dc" stroke-width="0.3" textLength="24.4" lengthAdjust="spacingAndGlyphs">(14,</text>
<text x="140.0" y="80.0" font-size="15.5" fill="#d8d8dc" stroke="#d8d8dc" stroke-width="0.3" textLength="19.2" lengthAdjust="spacingAndGlyphs">30,</text>
<text x="165.6" y="80.0" font-size="15.5" fill="#d8d8dc" stroke="#d8d8dc" stroke-width="0.3" textLength="20.4" lengthAdjust="spacingAndGlyphs">70)</text>
<text x="23.3" y="466.0" font-size="15.5" fill="#d8d8dc" stroke="#d8d8dc" stroke-width="0.3" textLength="19.0" lengthAdjust="spacingAndGlyphs">RSI</text>
<text x="49.0" y="466.0" font-size="15.5" fill="#d8d8dc" stroke="#d8d8dc" stroke-width="0.3" textLength="24.8" lengthAdjust="spacingAndGlyphs">(14,</text>
<text x="78.8" y="466.0" font-size="15.5" fill="#d8d8dc" stroke="#d8d8dc" stroke-width="0.3" textLength="38.9" lengthAdjust="spacingAndGlyphs">close)</text>
<text x="128.5" y="466.0" font-size="15.5" fill="#f8e63c" stroke="#f8e63c" stroke-width="0.3" textLength="35.7" lengthAdjust="spacingAndGlyphs">35.27</text>
<text x="23.3" y="530.0" font-size="15.5" fill="#d8d8dc" stroke="#d8d8dc" stroke-width="0.3" textLength="24.0" lengthAdjust="spacingAndGlyphs">24H</text>
<text x="53.4" y="530.0" font-size="15.5" fill="#d8d8dc" stroke="#d8d8dc" stroke-width="0.3" textLength="19.3" lengthAdjust="spacingAndGlyphs">Vol</text>
<text x="78.8" y="530.0" font-size="15.5" fill="#d8d8dc" stroke="#d8d8dc" stroke-width="0.3" textLength="41.4" lengthAdjust="spacingAndGlyphs">(close,</text>
<text x="128.0" y="530.0" font-size="15.5" fill="#d8d8dc" stroke="#d8d8dc" stroke-width="0.3" textLength="53.6" lengthAdjust="spacingAndGlyphs">Default)</text>
<text x="192.0" y="530.0" font-size="15.5" fill="#2962ff" stroke="#2962ff" stroke-width="0.3" textLength="46.7" lengthAdjust="spacingAndGlyphs">8.626M</text>
<text x="354.3" y="400.0" font-size="15.5" fill="#b8bac2" stroke="#b8bac2" stroke-width="0.3" textLength="33.5" lengthAdjust="spacingAndGlyphs" text-anchor="middle">RsiLE</text>
<text x="354.3" y="417.0" font-size="15.5" fill="#b8bac2" stroke="#b8bac2" stroke-width="0.3" textLength="14.3" lengthAdjust="spacingAndGlyphs" text-anchor="middle">+2</text>
<text x="858.3" y="292.0" font-size="15.5" fill="#b8bac2" stroke="#b8bac2" stroke-width="0.3" textLength="12.5" lengthAdjust="spacingAndGlyphs" text-anchor="middle">-2</text>
<text x="858.3" y="309.0" font-size="15.5" fill="#b8bac2" stroke="#b8bac2" stroke-width="0.3" textLength="33.7" lengthAdjust="spacingAndGlyphs" text-anchor="middle">RsiSE</text>
<clipPath id="cm"><rect x="14" y="35" width="1679" height="405"/></clipPath>
<g clip-path="url(#cm)">
<text x="1369.4" y="429.0" font-size="15.5" fill="#b8bac2" stroke="#b8bac2" stroke-width="0.3" textLength="33.5" lengthAdjust="spacingAndGlyphs" text-anchor="middle">RsiLE</text>
<text x="1369.4" y="446.0" font-size="15.5" fill="#b8bac2" stroke="#b8bac2" stroke-width="0.3" textLength="14.3" lengthAdjust="spacingAndGlyphs" text-anchor="middle">+2</text>
</g>
<text x="1705.5" y="56.0" font-size="15.5" fill="#d8d8dc" stroke="#d8d8dc" stroke-width="0.3" textLength="34.8" lengthAdjust="spacingAndGlyphs">USDT</text>
<text x="1703.0" y="86.0" font-size="15.1" fill="#d8d8dc" stroke="#d8d8dc" stroke-width="0.3" textLength="77.0" lengthAdjust="spacingAndGlyphs">0.00010000</text>
<text x="1703.0" y="152.0" font-size="15.1" fill="#d8d8dc" stroke="#d8d8dc" stroke-width="0.3" textLength="77.0" lengthAdjust="spacingAndGlyphs">0.00008000</text>
<text x="1703.0" y="217.0" font-size="15.1" fill="#d8d8dc" stroke="#d8d8dc" stroke-width="0.3" textLength="77.0" lengthAdjust="spacingAndGlyphs">0.00006000</text>
<text x="1703.0" y="283.0" font-size="15.1" fill="#d8d8dc" stroke="#d8d8dc" stroke-width="0.3" textLength="77.0" lengthAdjust="spacingAndGlyphs">0.00004000</text>
<text x="1703.0" y="349.0" font-size="15.1" fill="#d8d8dc" stroke="#d8d8dc" stroke-width="0.3" textLength="77.0" lengthAdjust="spacingAndGlyphs">0.00002000</text>
<text x="1703.0" y="414.0" font-size="15.1" fill="#d8d8dc" stroke="#d8d8dc" stroke-width="0.3" textLength="77.0" lengthAdjust="spacingAndGlyphs">0.00000000</text>
<clipPath id="cr"><rect x="1694" y="441" width="105" height="63"/></clipPath>
<g clip-path="url(#cr)">
<text x="1704.1" y="449.0" font-size="15.1" fill="#d8d8dc" stroke="#d8d8dc" stroke-width="0.3" textLength="43.5" lengthAdjust="spacingAndGlyphs">100.00</text>
</g>
<text x="1703.3" y="523.0" font-size="15.1" fill="#d8d8dc" stroke="#d8d8dc" stroke-width="0.3" textLength="33.5" lengthAdjust="spacingAndGlyphs">800M</text>
<text x="1703.3" y="573.0" font-size="15.1" fill="#d8d8dc" stroke="#d8d8dc" stroke-width="0.3" textLength="33.5" lengthAdjust="spacingAndGlyphs">400M</text>
<text x="1703.3" y="622.0" font-size="15.1" fill="#d8d8dc" stroke="#d8d8dc" stroke-width="0.3" textLength="8.0" lengthAdjust="spacingAndGlyphs">0</text>
<path d="M1693 372h92.6a2 2 0 0 1 2 2v35a2 2 0 0 1 -2 2h-92.6z" fill="#26a69a"/>
<text x="1703.0" y="388.0" font-size="15.1" fill="#ffffff" stroke="#ffffff" stroke-width="0.3" textLength="75.5" lengthAdjust="spacingAndGlyphs">0.00000802</text>
<text x="1703.5" y="406.0" font-size="15.1" fill="#ffffff" stroke="#ffffff" stroke-width="0.3" textLength="57.5" lengthAdjust="spacingAndGlyphs" fill-opacity="0.75" stroke-opacity="0.75">10:05:37</text>
<text x="58.8" y="650.0" font-size="15.5" fill="#d8d8dc" stroke="#d8d8dc" stroke-width="0.3" textLength="23.8" lengthAdjust="spacingAndGlyphs">Oct</text>
<text x="174.8" y="650.0" font-size="15.5" fill="#d8d8dc" stroke="#d8d8dc" stroke-width="0.3" textLength="14.4" lengthAdjust="spacingAndGlyphs">15</text>
<text x="280.1" y="650.0" font-size="15.5" fill="#d8d8dc" stroke="#d8d8dc" stroke-width="0.3" textLength="34.7" lengthAdjust="spacingAndGlyphs" font-weight="bold">2022</text>
<text x="430.6" y="650.0" font-size="15.5" fill="#d8d8dc" stroke="#d8d8dc" stroke-width="0.3" textLength="25.1" lengthAdjust="spacingAndGlyphs">Mar</text>
<text x="580.3" y="650.0" font-size="15.5" fill="#d8d8dc" stroke="#d8d8dc" stroke-width="0.3" textLength="26.2" lengthAdjust="spacingAndGlyphs">May</text>
<text x="734.6" y="650.0" font-size="15.5" fill="#d8d8dc" stroke="#d8d8dc" stroke-width="0.3" textLength="19.3" lengthAdjust="spacingAndGlyphs">Jul</text>
<text x="884.8" y="650.0" font-size="15.5" fill="#d8d8dc" stroke="#d8d8dc" stroke-width="0.3" textLength="24.2" lengthAdjust="spacingAndGlyphs">Sep</text>
<text x="1035.0" y="650.0" font-size="15.5" fill="#d8d8dc" stroke="#d8d8dc" stroke-width="0.3" textLength="25.4" lengthAdjust="spacingAndGlyphs">Nov</text>
<text x="1181.2" y="650.0" font-size="15.5" fill="#d8d8dc" stroke="#d8d8dc" stroke-width="0.3" textLength="34.7" lengthAdjust="spacingAndGlyphs" font-weight="bold">2023</text>
<text x="1331.9" y="650.0" font-size="15.5" fill="#d8d8dc" stroke="#d8d8dc" stroke-width="0.3" textLength="25.1" lengthAdjust="spacingAndGlyphs">Mar</text>
<text x="1481.2" y="650.0" font-size="15.5" fill="#d8d8dc" stroke="#d8d8dc" stroke-width="0.3" textLength="26.2" lengthAdjust="spacingAndGlyphs">May</text>
<text x="1635.3" y="650.0" font-size="15.5" fill="#d8d8dc" stroke="#d8d8dc" stroke-width="0.3" textLength="19.3" lengthAdjust="spacingAndGlyphs">Jul</text>
<g fill="#d8d8dc"><path d="M12.8 677.7h10.6v12.1h-5.8v-6.2h-4.8z"/><circle cx="26.5" cy="679.9" r="2.2"/><path d="M31.1 677.7h6.3l-4.2 12.1h-5.9z"/></g>
<text x="42.2" y="690.0" font-size="15.9" fill="#d8d8dc" stroke="#d8d8dc" stroke-width="0.3" textLength="87.8" lengthAdjust="spacingAndGlyphs">TradingView</text>
</svg>
</body></html>
